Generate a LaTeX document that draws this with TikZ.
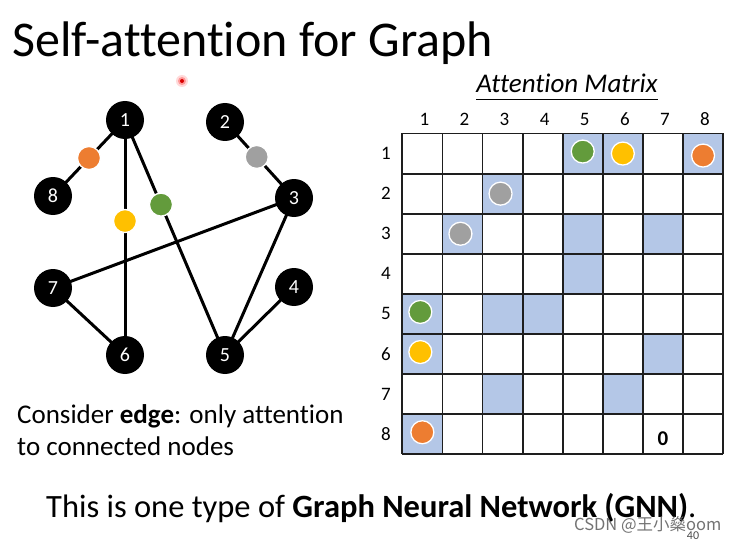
\documentclass[tikz,border=0pt]{standalone}
\usepackage{fontspec}
\setmainfont{Carlito}[Ligatures=NoCommon]
\newfontfamily\cjk{Noto Sans CJK SC}
\usetikzlibrary{backgrounds}
\definecolor{cgreen}{HTML}{639B3C}
\definecolor{cyellow}{HTML}{FFC000}
\definecolor{corange}{HTML}{ED7D31}
\definecolor{cgray}{HTML}{A0A0A0}
\definecolor{cblue}{HTML}{B4C7E7}
\definecolor{gridc}{HTML}{1E1E1E}
\begin{document}
\begin{tikzpicture}[x=1pt,y=-1pt,
  gnode/.style={circle,fill=black,minimum size=38pt,inner sep=0pt,text=white,font=\fontsize{20}{20}\selectfont},
  gedge/.style={line width=3pt,black},
  dot/.style={circle,fill=#1,draw=white,line width=1.3pt,minimum size=23pt,inner sep=0pt},
  lbl/.style={font=\fontsize{19}{19}\selectfont,inner sep=0pt},
  gridline/.style={draw=gridc,line width=1.8pt}
]
\useasboundingbox (0,0) rectangle (740,543);
\begin{scope}[on background layer]
  \fill[white] (0,0) rectangle (740,543);
\end{scope}

% title
\node[anchor=base west,inner sep=0pt,font=\fontsize{50}{50}\selectfont] (title) at (12,57) {Self-attention for Graph};

% laser pointer dot
\fill[red!15] (182,81) circle (6);
\fill[red!40] (182,81) circle (4);
\node[circle,fill=red!85!black,minimum size=4pt,inner sep=0pt] (laser) at (182,81) {};

% graph nodes
\node[gnode] (n1) at (125,120) {1};
\node[gnode] (n2) at (225,122) {2};
\node[gnode] (n3) at (294,198) {3};
\node[gnode] (n8) at (53,196) {8};
\node[gnode] (n7) at (53,288) {7};
\node[gnode] (n4) at (294,287) {4};
\node[gnode] (n6) at (125,355) {6};
\node[gnode] (n5) at (225,355) {5};

\begin{scope}[on background layer]
  \draw[gedge] (n1.center) -- node[dot=corange,pos=0.5] (d18) {} (n8.center);
  \draw[gedge] (n1.center) -- node[dot=cyellow,pos=0.43] (d16) {} (n6.center);
  \draw[gedge] (n1.center) -- node[dot=cgreen,pos=0.36] (d15) {} (n5.center);
  \draw[gedge] (n2.center) -- node[dot=cgray,pos=0.46] (d23) {} (n3.center);
  \draw[gedge] (n3.center) -- (n7.center);
  \draw[gedge] (n3.center) -- (n5.center);
  \draw[gedge] (n4.center) -- (n5.center);
  \draw[gedge] (n7.center) -- (n6.center);
\end{scope}

% attention matrix title
\node[anchor=base,inner sep=0pt,font=\itshape\fontsize{27}{27}\selectfont] (mt) at (567,93) {Attention Matrix};
\draw[line width=1pt] ([yshift=-7pt]mt.base west) -- ([yshift=-7pt]mt.base east);

% highlighted cells
\def\sx{402.3}\def\sy{133.5}\def\cs{40.1}
\foreach \r/\c in {1/5,1/6,1/8,2/3,3/2,3/5,3/7,4/5,5/1,5/3,5/4,6/1,6/7,7/3,7/6,8/1}{
  \fill[cblue] ({\sx+(\c-1)*\cs},{\sy+(\r-1)*\cs}) rectangle ({\sx+\c*\cs},{\sy+\r*\cs});
}
% grid
\foreach \i in {0,...,8}{
  \draw[gridline] ({\sx+\i*\cs},\sy) -- ({\sx+\i*\cs},{\sy+8*\cs});
  \draw[gridline] (\sx,{\sy+\i*\cs}) -- ({\sx+8*\cs},{\sy+\i*\cs});
}
% labels
\foreach \i in {1,...,8}{
  \node[lbl] (col\i) at ({\sx+(\i-0.5)*\cs+2},119) {\i};
  \node[lbl] (row\i) at (386,{\sy+(\i-0.5)*\cs}) {\i};
}
% dots in matrix
\node[dot=cgreen] (m15) at ({\sx+4.5*\cs},{\sy+0.45*\cs}) {};
\node[dot=cyellow] (m16) at ({\sx+5.5*\cs},{\sy+0.5*\cs}) {};
\node[dot=corange] (m18) at ({\sx+7.5*\cs},{\sy+0.55*\cs}) {};
\node[dot=cgray] (m23) at ({\sx+2.45*\cs},{\sy+1.5*\cs}) {};
\node[dot=cgray] (m32) at ({\sx+1.45*\cs},{\sy+2.5*\cs}) {};
\node[dot=cgreen] (m51) at ({\sx+0.45*\cs},{\sy+4.45*\cs}) {};
\node[dot=cyellow] (m61) at ({\sx+0.45*\cs},{\sy+5.45*\cs}) {};
\node[dot=corange] (m81) at ({\sx+0.5*\cs},{\sy+7.45*\cs}) {};
\node[font=\bfseries\fontsize{21}{21}\selectfont,inner sep=0pt] (zero) at ({\sx+6.5*\cs},{\sy+7.6*\cs}) {0};

% caption left
\node[anchor=base west,align=left,inner sep=0pt,font=\fontsize{27}{32}\selectfont] (cap) at (17,455) {Consider \textbf{edge}: only attention\\to connected nodes};

% bottom line
\node[anchor=base west,inner sep=0pt,font=\fontsize{32.5}{33}\selectfont] (gnn) at (46,517) {This is one type of \textbf{Graph Neural Network (GNN)}.};

% watermark
\node[anchor=base west,inner sep=0pt,text=black!55,font=\cjk\fontsize{16.5}{17}\selectfont] (wm) at (574,530) {CSDN @王小燊oom};
\node[anchor=base,inner sep=0pt,text=black!70,font=\fontsize{12}{12}\selectfont] (pg) at (693,539) {40};
\end{tikzpicture}
\end{document}
